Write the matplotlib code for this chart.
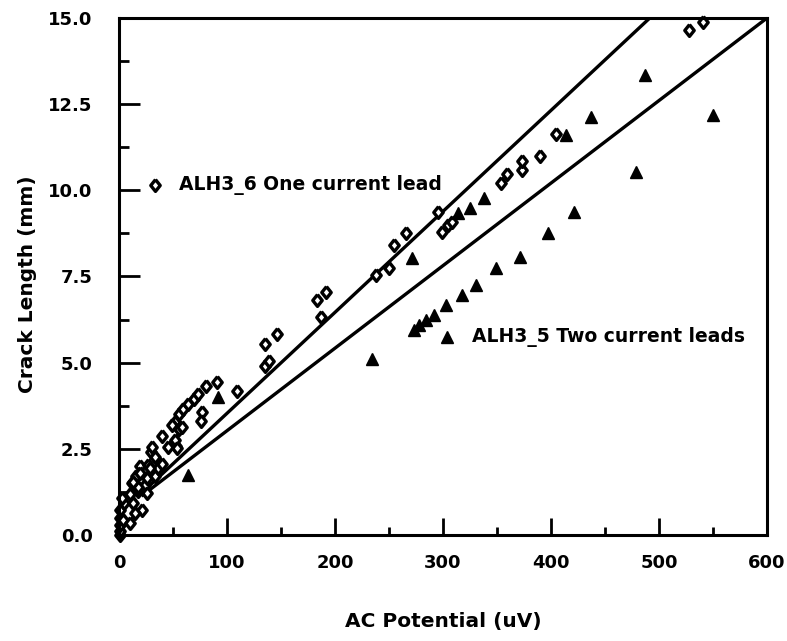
import numpy as np
import matplotlib
matplotlib.use("Agg")
import matplotlib.pyplot as plt
from matplotlib.ticker import MultipleLocator, FormatStrFormatter

# ALH3_6, one current lead (open diamonds)
one_lead_x = [0.5, 1, 0.5, 0.5, 3.5, 10, 0.5, 5, 13, 21, 15, 3, 10, 18, 12, 24,
              16, 26, 33, 19, 27, 36, 40, 30, 33, 31, 53, 40, 56, 52, 56, 59,
              64, 69, 73, 81, 77, 76, 91, 109, 135, 139, 135, 146, 187, 183,
              192, 238, 250, 255, 266, 295, 299, 305, 308, 354, 359, 373, 373,
              390, 405, 528, 541, 49, 58, 52, 45, 54, 29, 19.5, 17.6, 26, 13]
one_lead_y = [0.0, 0.12, 0.29, 0.49, 0.43, 0.35, 0.72, 0.92, 0.92, 0.72, 0.63,
              1.07, 1.2, 1.27, 1.5, 1.44, 1.7, 1.64, 1.7, 1.99, 2.02, 1.93,
              2.07, 2.42, 2.27, 2.56, 2.59, 2.88, 3.08, 3.28, 3.51, 3.66, 3.8,
              3.94, 4.09, 4.32, 3.57, 3.31, 4.43, 4.18, 4.9, 5.04, 5.53, 5.82,
              6.33, 6.82, 7.05, 7.54, 7.75, 8.4, 8.75, 9.36, 8.78, 9.0, 9.07,
              10.2, 10.48, 10.6, 10.85, 11.0, 11.63, 14.66, 14.89, 3.2, 3.13,
              2.75, 2.55, 2.52, 1.94, 1.8, 1.39, 1.22, 1.54]

# ALH3_5, two current leads (filled triangles)
two_lead_x = [64, 92, 234, 273, 278, 284, 292, 303, 318, 331, 349, 371, 271,
              397, 421, 479, 314, 325, 338, 414, 437, 487, 550]
two_lead_y = [1.73, 4.0, 5.1, 5.96, 6.1, 6.25, 6.39, 6.68, 6.97, 7.25, 7.75,
              8.06, 8.03, 8.75, 9.36, 10.54, 9.33, 9.5, 9.79, 11.6, 12.12,
              13.36, 12.2]

# straight fits: intercept, slope
fit_one = [0.6, 0.0293]
fit_two = [0.63, 0.02395]
fit_x = [22, 600]

label_one = "ALH3_6 One current lead"
label_two = "ALH3_5 Two current leads"
key_one = [33, 10.15, 56]
key_two = [304, 5.74, 327]

plt.rcParams['font.family'] = 'DejaVu Sans'
plt.rcParams['font.weight'] = 'bold'

# squat diamond like the plotter's symbol
diamond = [(0, 1), (0.8, 0), (0, -1), (-0.8, 0), (0, 1)]

fig = plt.figure(figsize=(7.87, 6.41), dpi=100)
ax = fig.add_axes([0.1512, 0.1654, 0.8234, 0.8065])

fx = np.array(fit_x, dtype=float)
ax.plot(fx, fit_one[0] + fit_one[1]*fx, color='black', lw=2.4)
ax.plot(fx, fit_two[0] + fit_two[1]*fx, color='black', lw=2.4)

ax.plot(one_lead_x, one_lead_y, marker=diamond, ls='none', ms=8.5,
        mfc='white', mec='black', mew=2.4, clip_on=False)
ax.plot(two_lead_x, two_lead_y, '^', ms=8, color='black', clip_on=False)

# in-plot labels
ax.plot(key_one[0], key_one[1], marker=diamond, ms=8.5, mfc='white',
        mec='black', mew=2.4)
ax.text(key_one[2], key_one[1], label_one, fontsize=13.5, fontweight='bold',
        va='center', ha='left')
ax.plot(key_two[0], key_two[1], '^', ms=8, color='black')
ax.text(key_two[2], key_two[1], label_two, fontsize=13.5, fontweight='bold',
        va='center', ha='left')

ax.set_xlim(0, 600)
ax.set_ylim(0, 15)
ax.xaxis.set_major_locator(MultipleLocator(100))
ax.xaxis.set_minor_locator(MultipleLocator(50))
ax.yaxis.set_major_locator(MultipleLocator(2.5))
ax.yaxis.set_minor_locator(MultipleLocator(1.25))
ax.yaxis.set_major_formatter(FormatStrFormatter('%.1f'))

ax.tick_params(axis='x', which='major', direction='in', length=12.5, width=2,
               pad=14, labelsize=13)
ax.tick_params(axis='x', which='minor', direction='in', length=6, width=2)
ax.tick_params(axis='y', which='major', direction='in', length=15, width=2,
               pad=19, labelsize=13)
ax.tick_params(axis='y', which='minor', direction='in', length=7.5, width=2)
for lbl in ax.get_xticklabels() + ax.get_yticklabels():
    lbl.set_fontweight('bold')

for s in ax.spines.values():
    s.set_linewidth(2.2)

ax.set_xlabel('AC Potential (uV)', fontsize=14.5, fontweight='bold')
ax.set_ylabel('Crack Length (mm)', fontsize=14.5, fontweight='bold')
ax.xaxis.set_label_coords(0.5, -0.149)
ax.yaxis.set_label_coords(-0.1265, 0.4845)

fig.savefig('out.png', dpi=100)
